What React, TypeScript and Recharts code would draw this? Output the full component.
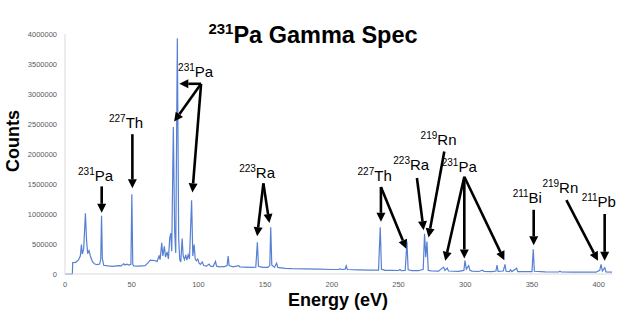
import { LineChart, Line, XAxis, YAxis, ReferenceLine, ReferenceDot } from 'recharts';

const xTicks = [0, 50, 100, 150, 200, 250, 300, 350, 400];
const yTicks = [0, 500000, 1000000, 1500000, 2000000, 2500000, 3000000, 3500000, 4000000];

// [energy, counts]
const spectrumLow: [number, number][] = [
  [0, 0], [5.5, 0], [5.8, 190000], [8, 195000], [10, 230000], [11.5, 300000], [12.3, 490000],
  [13, 330000], [14, 420000], [15.3, 1010000], [16.2, 550000], [17, 340000], [18, 390000],
  [19, 300000], [20.5, 210000], [22, 170000], [24, 155000], [26, 165000], [26.8, 250000],
  [27.4, 970000], [28, 260000], [29, 145000], [32, 135000], [36, 128000], [40, 140000],
  [42, 135000], [44, 170000], [45, 150000], [46.5, 165000], [48, 150000], [49.4, 160000],
  [50.1, 1330000], [50.8, 160000], [51.5, 135000], [55, 130000], [60, 140000], [62, 180000],
  [64, 230000], [67, 225000], [69, 210000], [70.5, 300000], [71.3, 240000], [72.5, 520000],
  [73.3, 300000], [74.5, 460000], [75.3, 280000], [76.5, 370000], [77.5, 250000],
  [78.5, 600000], [79.3, 680000], [80, 380000], [81.2, 2450000], [82.2, 700000], [83, 350000],
  [84.2, 3930000], [85.2, 600000], [86, 240000], [86.8, 200000], [87.8, 590000], [88.6, 300000],
  [89.5, 240000], [90.5, 320000], [91.3, 230000], [92.3, 320000], [93.3, 250000],
  [94.9, 1230000], [95.8, 300000], [96.8, 490000], [97.6, 250000], [98.5, 220000],
  [99.5, 250000], [100.5, 180000],
];

const spectrumMid: [number, number][] = [
  [101.5, 160000], [102.8, 200000], [104, 140000], [106, 130000], [108, 165000], [109, 130000],
  [111, 125000], [112.8, 210000], [113.6, 130000], [116, 120000], [118, 125000], [119, 120000],
  [121.5, 140000], [122.3, 300000], [123, 140000], [126, 120000], [130, 140000], [131, 120000],
  [135, 115000], [140, 110000], [143, 115000], [144.2, 530000], [145, 130000], [148, 110000],
  [152, 110000], [153.5, 140000], [154.2, 780000], [155, 150000], [157, 110000], [158.6, 180000],
  [159.5, 110000], [165, 95000], [170, 90000], [180, 85000], [190, 80000], [200, 75000],
  [205, 75000], [206, 85000], [208, 75000], [210, 80000], [210.8, 135000], [211.6, 75000],
  [220, 70000], [230, 65000], [235, 65000], [236.3, 780000], [237.2, 80000], [240, 62000],
  [245, 60000], [250, 58000],
];

const spectrumHigh: [number, number][] = [
  [251, 75000], [252, 58000], [255, 60000], [256.3, 540000], [257.2, 70000], [260, 55000],
  [265, 55000], [268.5, 80000], [269.5, 670000], [270.4, 280000], [271.3, 540000],
  [272.3, 60000], [275, 50000], [280, 48000], [283.8, 115000], [284.8, 60000], [286.5, 100000],
  [287.4, 50000], [295, 45000], [299, 60000], [299.8, 225000], [300.8, 80000], [302.6, 140000],
  [303.5, 60000], [305, 48000], [310, 42000], [313, 65000], [314, 42000], [320, 40000],
  [323, 50000], [323.8, 150000], [324.6, 45000], [328.5, 50000], [329.8, 160000],
  [330.6, 45000], [333, 40000], [334, 70000], [335, 40000], [338.5, 95000], [339.4, 40000],
  [345, 38000], [350, 40000], [351, 410000], [351.8, 45000], [360, 35000], [370, 33000],
  [371, 45000], [372, 33000], [380, 32000], [390, 30000], [398, 30000], [400.8, 60000],
  [401.8, 160000], [402.8, 50000], [404.6, 105000], [405.5, 35000], [410, 30000],
];

const data = [...spectrumLow, ...spectrumMid, ...spectrumHigh].map(([energy, counts]) => ({ energy, counts }));

type Tag = { mass: string; el: string; at: [number, number]; from: [number, number]; to: [number, number][] };

const tags: Tag[] = [
  { mass: '231', el: 'Pa', at: [22.9, 1550000], from: [27.5, 1460000], to: [[27.5, 1020000]] },
  { mass: '227', el: 'Th', at: [45.8, 2430000], from: [50.5, 2330000], to: [[50.5, 1430000]] },
  { mass: '231', el: 'Pa', at: [97.9, 3280000], from: [102, 3170000], to: [[85.7, 3170000], [81.8, 2540000], [95.5, 1360000]] },
  { mass: '223', el: 'Ra', at: [144, 1605000], from: [148.7, 1510000], to: [[144, 630000], [153.2, 850000]] },
  { mass: '227', el: 'Th', at: [232.1, 1555000], from: [236.8, 1450000], to: [[236.8, 870000], [255.8, 420000]] },
  { mass: '223', el: 'Ra', at: [259.5, 1733000], from: [263.8, 1600000], to: [[268.8, 730000]] },
  { mass: '219', el: 'Rn', at: [280, 2150000], from: [284.3, 2040000], to: [[272.5, 610000]] },
  { mass: '231', el: 'Pa', at: [295.5, 1705000], from: [299.3, 1620000], to: [[285, 220000], [299.3, 260000], [329.3, 230000]] },
  { mass: '211', el: 'Bi', at: [346.5, 1180000], from: [351.3, 1070000], to: [[351.3, 480000]] },
  { mass: '219', el: 'Rn', at: [371.3, 1355000], from: [375.8, 1230000], to: [[399.5, 220000]] },
  { mass: '211', el: 'Pb', at: [400.1, 1120000], from: [404.5, 1000000], to: [[404.5, 220000]] },
];

const FONT = '"Liberation Sans", Arial, sans-serif';

function Arrow(p: any) {
  const { x1, y1, x2, y2 } = p;
  const dx = x2 - x1;
  const dy = y2 - y1;
  const len = Math.hypot(dx, dy) || 1;
  const ux = dx / len;
  const uy = dy / len;
  const head = 9;
  const half = 4.5;
  const bx = x2 - ux * head;
  const by = y2 - uy * head;
  const pts = `${x2},${y2} ${bx - uy * half},${by + ux * half} ${bx + uy * half},${by - ux * half}`;
  return (
    <g>
      <line x1={x1} y1={y1} x2={bx} y2={by} stroke="#000" strokeWidth={2.6} />
      <polygon points={pts} fill="#000" />
    </g>
  );
}

function tagText(mass: string, el: string) {
  return (p: any) => (
    <text x={p.cx} y={p.cy} textAnchor="middle" fontFamily={FONT} fill="#000">
      <tspan fontSize={10} dy={-6}>{mass}</tspan>
      <tspan fontSize={15} dy={6}>{el}</tspan>
    </text>
  );
}

export default function App() {
  return (
    <div style={{ position: 'absolute', left: 0, top: 0, width: 624, height: 320, background: '#fff' }}>
      <LineChart width={624} height={320} data={data} margin={{ top: 34, right: 12, bottom: 26, left: 0 }}>
        <XAxis
          dataKey="energy"
          type="number"
          domain={[0, 410]}
          ticks={xTicks}
          height={20}
          tickLine={false}
          stroke="#d9d9d9"
          tick={{ fontSize: 7.5, fill: '#595959', fontFamily: FONT }}
        />
        <YAxis
          type="number"
          domain={[0, 4000000]}
          ticks={yTicks}
          width={65}
          tickLine={false}
          stroke="#d9d9d9"
          tickFormatter={(v) => String(v)}
          tick={{ fontSize: 7.5, fill: '#595959', fontFamily: FONT }}
        />
        <Line dataKey="counts" type="linear" stroke="#5680D3" strokeWidth={1.2} dot={false} isAnimationActive={false} />
        {tags.flatMap((t, i) =>
          t.to.map((end, j) => (
            <ReferenceLine
              key={`a${i}-${j}`}
              segment={[{ x: t.from[0], y: t.from[1] }, { x: end[0], y: end[1] }]}
              shape={Arrow}
            />
          ))
        )}
        {tags.map((t, i) => (
          <ReferenceDot key={`t${i}`} x={t.at[0]} y={t.at[1]} r={0} shape={tagText(t.mass, t.el)} />
        ))}
      </LineChart>
      <svg width={624} height={320} style={{ position: 'absolute', left: 0, top: 0, pointerEvents: 'none' }}>
        <text x={313} y={43} textAnchor="middle" fontFamily={FONT} fontWeight="bold" fill="#000">
          <tspan fontSize={15} dy={-9}>231</tspan>
          <tspan fontSize={23.5} dy={9}>Pa Gamma Spec</tspan>
        </text>
        <text
          x={0}
          y={0}
          transform="translate(19,141) rotate(-90)"
          textAnchor="middle"
          fontFamily={FONT}
          fontWeight="bold"
          fontSize={18}
          fill="#000"
        >
          Counts
        </text>
        <text x={338} y={306} textAnchor="middle" fontFamily={FONT} fontWeight="bold" fontSize={18} fill="#000">
          Energy (eV)
        </text>
      </svg>
    </div>
  );
}
